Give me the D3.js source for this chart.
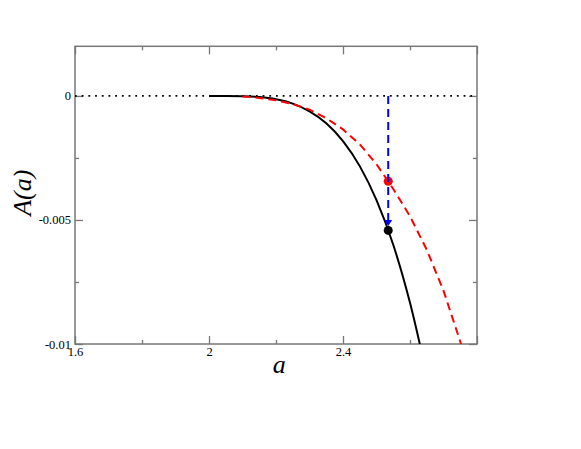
<!DOCTYPE html>
<html>
<head>
<meta charset="utf-8">
<script src="https://cdn.jsdelivr.net/npm/d3@7"></script>
<style>
	body{margin:0;background:#fff;}
	svg text{font-family:"Liberation Serif","Times New Roman",Times,"DejaVu Serif",serif !important;}
</style>
</head>
<body>
<div id="container"></div>
<script>
// values
var exactA = [2.0,2.05,2.1,2.15,2.2,2.25,2.3,2.35,2.4,2.45,2.5,2.55,2.6,2.65];
var exactY = [0,-0.0000008,-0.00001,-0.000046,-0.000135,-0.00031,-0.00062,-0.0011,-0.00182,-0.00283,-0.0042,-0.006,-0.00834,-0.01125];

var approxA = [2.1,2.15,2.2,2.25,2.3,2.35,2.4,2.45,2.5,2.55,2.6,2.65,2.7,2.75,2.8];
var approxY = [-0.00002,-0.00008,-0.00018,-0.00033,-0.00055,-0.0009,-0.00135,-0.00195,-0.00275,-0.00375,-0.00485,-0.0062,-0.00785,-0.0099,-0.0122];

var markA = 2.535;
var markExact = -0.00542;
var markApprox = -0.00344;

var xMajor = [1.6,2,2.4,2.8];
var xLabels = ['1.6','2','2.4',''];
var xMinor = [1.8,2.2,2.6];
var yMajor = [-0.01,-0.005,0];
var yLabels = ['-0.01','-0.005','0'];
var yMinor = [-0.0075,-0.0025];

var init = function(){

	return {

		w:581,
		h:449,

		generate:function(){
			var self = vis;

			var margin = { top:46.3, left:75, width:402, height:297.7 };

			var x = d3.scaleLinear().domain([1.6,2.8]).range([0,margin.width]);
			var y = d3.scaleLinear().domain([-0.01,0.002]).range([margin.height,0]);

			self.svg = d3.select('#container').append('svg')
				.attr('width',self.w)
				.attr('height',self.h);

			var g = self.svg.append('g')
				.attr('transform','translate(' +margin.left +',' +margin.top +')');

			g.append('defs').append('clipPath').attr('id','clip')
				.append('rect')
				.attr('width',margin.width)
				.attr('height',margin.height);

			// ticks, inward
			var xFmt = function(d,i){ return xLabels[i]; };
			var yFmt = function(d,i){ return yLabels[i]; };
			var axes = [
				{ a:d3.axisBottom(x).tickValues(xMajor).tickSizeInner(-8).tickPadding(3).tickFormat(xFmt), t:[0,margin.height] },
				{ a:d3.axisBottom(x).tickValues(xMinor).tickSizeInner(-4).tickFormat(''), t:[0,margin.height] },
				{ a:d3.axisTop(x).tickValues(xMajor).tickSizeInner(-8).tickFormat(''), t:[0,0] },
				{ a:d3.axisTop(x).tickValues(xMinor).tickSizeInner(-4).tickFormat(''), t:[0,0] },
				{ a:d3.axisLeft(y).tickValues(yMajor).tickSizeInner(-8).tickPadding(4).tickFormat(yFmt), t:[0,0] },
				{ a:d3.axisLeft(y).tickValues(yMinor).tickSizeInner(-4).tickFormat(''), t:[0,0] },
				{ a:d3.axisRight(y).tickValues(yMajor).tickSizeInner(-8).tickFormat(''), t:[margin.width,0] },
				{ a:d3.axisRight(y).tickValues(yMinor).tickSizeInner(-4).tickFormat(''), t:[margin.width,0] }
			];
			axes.forEach(function(d){
				var ax = g.append('g')
					.attr('transform','translate(' +d.t[0] +',' +d.t[1] +')')
					.call(d.a.tickSizeOuter(0))
					.attr('font-family',null);
				ax.select('.domain').remove();
				ax.selectAll('line').attr('stroke','#777').attr('stroke-width',1.3);
				ax.selectAll('text')
					.attr('fill','#000')
					.style('font-size','12.5px');
			});

			g.append('rect')
				.attr('width',margin.width)
				.attr('height',margin.height)
				.attr('fill','none')
				.attr('stroke','#777')
				.attr('stroke-width',1.5);

			// zero line
			g.append('line')
				.attr('x1',0).attr('x2',margin.width)
				.attr('y1',y(0)).attr('y2',y(0))
				.attr('stroke','#000')
				.attr('stroke-width',1.8)
				.attr('stroke-dasharray','1.8,4.9');

			var plot = g.append('g').attr('clip-path','url(#clip)');

			var line = d3.line()
				.x(function(d){ return x(d[0]); })
				.y(function(d){ return y(d[1]); })
				.curve(d3.curveMonotoneX);

			plot.append('path')
				.datum(d3.zip(exactA,exactY))
				.attr('d',line)
				.attr('fill','none')
				.attr('stroke','#000')
				.attr('stroke-width',2);

			plot.append('path')
				.datum(d3.zip(approxA,approxY))
				.attr('d',line.curve(d3.curveLinear))
				.attr('fill','none')
				.attr('stroke','#f00')
				.attr('stroke-width',2)
				.attr('stroke-dasharray','8,5');

			plot.append('circle')
				.attr('cx',x(markA)).attr('cy',y(markApprox))
				.attr('r',4.5)
				.attr('fill','#f00');

			plot.append('circle')
				.attr('cx',x(markA)).attr('cy',y(markExact))
				.attr('r',4.5)
				.attr('fill','#000');

			// arrow down to the exact value
			var tipY = y(markExact) -4.5;
			plot.append('line')
				.attr('x1',x(markA)).attr('x2',x(markA))
				.attr('y1',y(0)).attr('y2',tipY -4)
				.attr('stroke','#00f')
				.attr('stroke-width',2)
				.attr('stroke-dasharray','8,5');
			plot.append('path')
				.attr('d','M' +(x(markA)-4) +',' +(tipY-6) +'L' +(x(markA)+4) +',' +(tipY-6) +'L' +x(markA) +',' +tipY +'Z')
				.attr('fill','#00f');

			// axis titles
			self.svg.append('text')
				.attr('x',margin.left +x(2.21))
				.attr('y',373)
				.attr('text-anchor','middle')
				.style('font-style','italic')
				.style('font-size','26px')
				.text('a');

			self.svg.append('text')
				.attr('transform','translate(31,' +(margin.top +y(-0.0039)) +') rotate(-90)')
				.attr('text-anchor','middle')
				.style('font-style','italic')
				.style('font-size','26px')
				.text('A(a)');
		}
	}
}

var vis = init();
vis.generate();
</script>
</body>
</html>
